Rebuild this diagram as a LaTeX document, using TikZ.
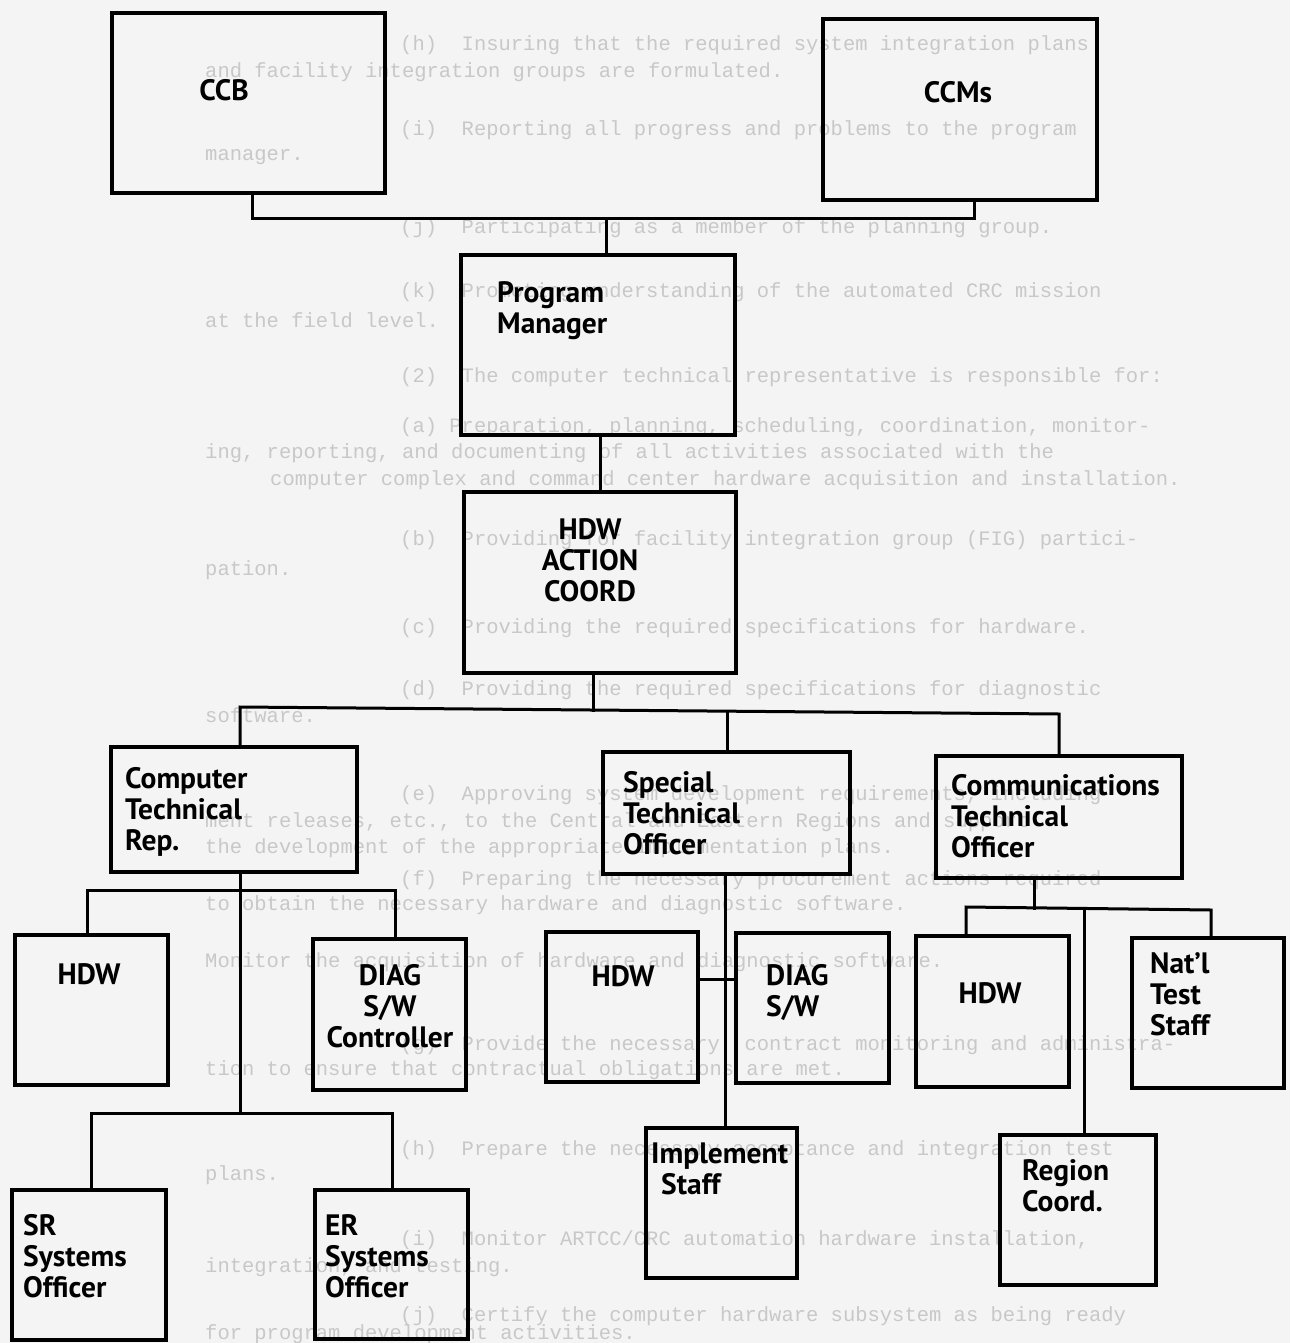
\documentclass[tikz,border=0pt]{standalone}
\usepackage{fontspec}
\setmainfont{PT Sans}
\newfontfamily\typefont{Liberation Mono}
\usetikzlibrary{calc}
\definecolor{paper}{RGB}{244,244,244}
\definecolor{ghost}{RGB}{200,200,200}
\tikzset{
  box/.style={draw=black, line width=3.2pt, inner sep=0pt, outer sep=0pt, shape=rectangle},
  lbl/.style={font=\fontsize{29.5}{31}\selectfont\bfseries, align=left, inner sep=0pt, anchor=west},
  conn/.style={draw=black, line width=3pt, line cap=rect, line join=miter},
  ghosttext/.style={font=\fontsize{20.5}{22}\typefont, text=ghost, anchor=west, inner sep=0pt}
}
\begin{document}
\begin{tikzpicture}[x=1pt,y=-1pt]
\fill[paper] (0,0) rectangle (1290,1343);
\useasboundingbox (0,0) rectangle (1290,1343);

% faint typed text showing through the page
\node[ghosttext] (g1) at (400,45) {(h)\ \ Insuring that the required system integration plans};
\node[ghosttext] (g2) at (205,72) {and facility integration groups are formulated.};
\node[ghosttext] (g3) at (400,130) {(i)\ \ Reporting all progress and problems to the program};
\node[ghosttext] (g4) at (205,157) {manager.};
\node[ghosttext] (g5) at (400,228) {(j)\ \ Participating as a member of the planning group.};
\node[ghosttext] (g6) at (400,292) {(k)\ \ Promoting understanding of the automated CRC mission};
\node[ghosttext] (g7) at (205,320) {at the field level.};
\node[ghosttext] (g8) at (400,377) {(2)\ \ The computer technical representative is responsible for:};
\node[ghosttext] (g9) at (400,427) {(a) Preparation, planning, scheduling, coordination, monitor-};
\node[ghosttext] (g10) at (205,453) {ing, reporting, and documenting of all activities associated with the};
\node[ghosttext] (g11) at (270,480) {computer complex and command center hardware acquisition and installation.};
\node[ghosttext] (g12) at (400,540) {(b)\ \ Providing for facility integration group (FIG) partici-};
\node[ghosttext] (g13) at (205,570) {pation.};
\node[ghosttext] (g14) at (400,628) {(c)\ \ Providing the required specifications for hardware.};
\node[ghosttext] (g15) at (400,690) {(d)\ \ Providing the required specifications for diagnostic};
\node[ghosttext] (g16) at (205,715) {software.};
\node[ghosttext] (g17) at (400,795) {(e)\ \ Approving system development requirements, including};
\node[ghosttext] (g18) at (205,822) {ment releases, etc., to the Central and Eastern Regions and support};
\node[ghosttext] (g19) at (205,848) {the development of the appropriate implementation plans.};
\node[ghosttext] (g20) at (400,880) {(f)\ \ Preparing the necessary procurement actions required};
\node[ghosttext] (g21) at (205,905) {to obtain the necessary hardware and diagnostic software.};
\node[ghosttext] (g22) at (205,962) {Monitor the acquisition of hardware and diagnostic software.};
\node[ghosttext] (g23) at (400,1045) {(g)\ \ Provide the necessary\ \ contract monitoring and administra-};
\node[ghosttext] (g24) at (205,1070) {tion to ensure that contractual obligations are met.};
\node[ghosttext] (g25) at (400,1150) {(h)\ \ Prepare the necessary acceptance and integration test};
\node[ghosttext] (g26) at (205,1175) {plans.};
\node[ghosttext] (g27) at (400,1240) {(i)\ \ Monitor ARTCC/CRC automation hardware installation,};
\node[ghosttext] (g28) at (205,1267) {integration, and testing.};
\node[ghosttext] (g29) at (400,1316) {(j)\ \ Certify the computer hardware subsystem as being ready};
\node[ghosttext] (g30) at (205,1334) {for program development activities.};

% boxes
\node[box, minimum width=273pt, minimum height=180pt] (ccb) at (248.5,103) {};
\node[box, minimum width=274pt, minimum height=181pt] (ccms) at (960,109.5) {};
\node[box, minimum width=274pt, minimum height=180pt] (pm) at (598,345) {};
\node[box, minimum width=272pt, minimum height=181pt] (hac) at (600,582.5) {};
\node[box, minimum width=246pt, minimum height=125pt] (ctr) at (234,809.5) {};
\node[box, minimum width=247pt, minimum height=122pt] (sto) at (726.5,813) {};
\node[box, minimum width=246pt, minimum height=122pt] (comm) at (1059,817) {};
\node[box, minimum width=153pt, minimum height=150pt] (hdwL) at (91.5,1010) {};
\node[box, minimum width=153pt, minimum height=151pt] (diagL) at (389.5,1014.5) {};
\node[box, minimum width=152pt, minimum height=150pt] (hdwM) at (622,1007) {};
\node[box, minimum width=153pt, minimum height=150pt] (diagM) at (812.5,1008) {};
\node[box, minimum width=153pt, minimum height=151pt] (hdwR) at (992.5,1011.5) {};
\node[box, minimum width=152pt, minimum height=150pt] (natl) at (1208,1013) {};
\node[box, minimum width=154pt, minimum height=150pt] (sr) at (89,1265) {};
\node[box, minimum width=153pt, minimum height=149pt] (er) at (391.5,1264.5) {};
\node[box, minimum width=151pt, minimum height=150pt] (impl) at (721.5,1203) {};
\node[box, minimum width=156pt, minimum height=150pt] (region) at (1078,1210) {};

% labels
\node[lbl, anchor=center] (ccb-t) at (224,90) {CCB};
\node[lbl, anchor=center] (ccms-t) at (958,92) {CCMs};
\node[lbl] (pm-t) at (497,311) {Program\\Manager};
\node[lbl, align=center, anchor=center] (hac-t) at (590,560) {HDW\\ACTION\\COORD};
\node[lbl] (ctr-t) at (125,812) {Computer\\Technical\\Rep.};
\node[lbl] (sto-t) at (623,813) {Special\\Technical\\Officer};
\node[lbl] (comm-t) at (951,816) {Communications\\Technical\\Officer};
\node[lbl, anchor=center] (hdwL-t) at (89,974) {HDW};
\node[lbl, align=center, anchor=center] (diagL-t) at (390,1006) {DIAG\\S/W\\Controller};
\node[lbl, anchor=center] (hdwM-t) at (623,976) {HDW};
\node[lbl] (diagM-t) at (766,993) {DIAG\\S/W};
\node[lbl, anchor=center] (hdwR-t) at (990,993) {HDW};
\node[lbl] (natl-t) at (1150,994) {Nat'l\\Test\\Staff};
\node[lbl] (sr-t) at (23,1256) {SR\\Systems\\Officer};
\node[lbl] (er-t) at (325,1256) {ER\\Systems\\Officer};
\node[lbl] (impl-t) at (651,1169) {Implement\\\hspace*{10pt}Staff};
\node[lbl] (region-t) at (1022,1186) {Region\\Coord.};

% connectors
\coordinate (j1) at (606,218);
\draw[conn] ([xshift=3.5pt]ccb.south) |- (j1) -| ([xshift=14pt]ccms.south);
\draw[conn] (j1) -- (j1 |- pm.north);
\draw[conn] (hac.north |- pm.south) -- (hac.north);

\coordinate (j2) at (593,710);
\coordinate (j2L) at (240,707);
\coordinate (j2M) at (727,711);
\coordinate (j2R) at (1059,714);
\draw[conn] (j2 |- hac.south) -- (j2);
\draw[conn] (j2L |- ctr.north) -- (j2L) -- (j2R) -- (comm.north);
\draw[conn] (j2M) -- (j2M |- sto.north);

\coordinate (j3) at (240,890);
\coordinate (j4) at (240,1113);
\coordinate (j3L) at (87,890);
\coordinate (j3R) at (395,890);
\coordinate (j4L) at (91,1113);
\coordinate (j4R) at (392,1113);
\draw[conn] (j3 |- ctr.south) -- (j4);
\draw[conn] (j3L |- hdwL.north) -- (j3L) -- (j3R) -- (j3R |- diagL.north);
\draw[conn] (j4L |- sr.north) -- (j4L) -- (j4R) -- (j4R |- er.north);

\coordinate (j5) at (725,979);
\draw[conn] (j5 |- sto.south) -- (j5 |- impl.north);
\draw[conn] (hdwM.east |- j5) -- (diagM.west |- j5);

\coordinate (j6) at (1034,908);
\coordinate (j6L) at (966,907);
\coordinate (j6R) at (1211,910);
\coordinate (j6M) at (1084,908.5);
\draw[conn] (j6 |- comm.south) -- (j6);
\draw[conn] (j6L |- hdwR.north) -- (j6L) -- (j6R) -- (j6R |- natl.north);
\draw[conn] (j6M) -- (j6M |- region.north);
\end{tikzpicture}
\end{document}
